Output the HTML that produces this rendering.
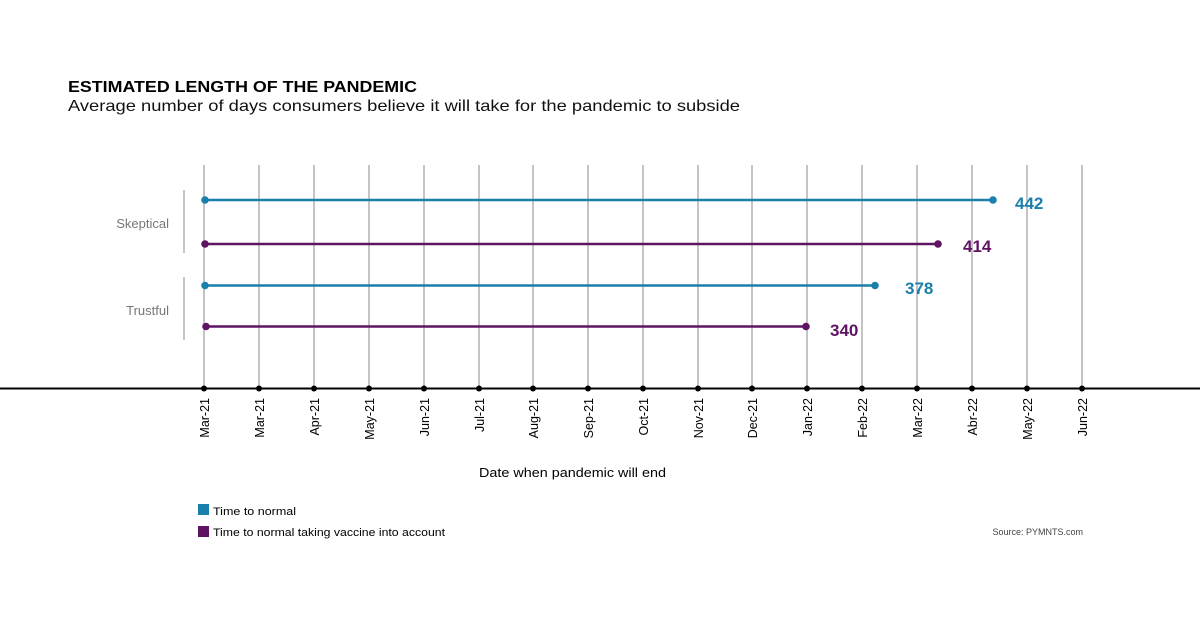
<!DOCTYPE html>
<html><head><style>
body{margin:0;background:#fff;width:1200px;height:634px;overflow:hidden;font-family:"Liberation Sans",sans-serif;}
</style></head><body>
<svg width="1200" height="634" xmlns="http://www.w3.org/2000/svg" font-family="Liberation Sans, sans-serif">
<text x="68" y="92" font-size="16" font-weight="bold" fill="#000" textLength="349" lengthAdjust="spacingAndGlyphs">ESTIMATED LENGTH OF THE PANDEMIC</text>
<text x="68" y="111" font-size="16" fill="#111" textLength="672" lengthAdjust="spacingAndGlyphs">Average number of days consumers believe it will take for the pandemic to subside</text>
<g stroke="#888" stroke-width="1">
<line x1="204" y1="165" x2="204" y2="388"/><line x1="259" y1="165" x2="259" y2="388"/><line x1="314" y1="165" x2="314" y2="388"/><line x1="369" y1="165" x2="369" y2="388"/><line x1="424" y1="165" x2="424" y2="388"/><line x1="479" y1="165" x2="479" y2="388"/><line x1="533" y1="165" x2="533" y2="388"/><line x1="588" y1="165" x2="588" y2="388"/><line x1="643" y1="165" x2="643" y2="388"/><line x1="698" y1="165" x2="698" y2="388"/><line x1="752" y1="165" x2="752" y2="388"/><line x1="807" y1="165" x2="807" y2="388"/><line x1="862" y1="165" x2="862" y2="388"/><line x1="917" y1="165" x2="917" y2="388"/><line x1="972" y1="165" x2="972" y2="388"/><line x1="1027" y1="165" x2="1027" y2="388"/><line x1="1082" y1="165" x2="1082" y2="388"/>
<line x1="184" y1="190" x2="184" y2="253"/><line x1="184" y1="277" x2="184" y2="340"/>
</g>
<line x1="0" y1="388.5" x2="1200" y2="388.5" stroke="#000" stroke-width="2"/>
<g fill="#000">
<circle cx="204" cy="388.5" r="3"/><circle cx="259" cy="388.5" r="3"/><circle cx="314" cy="388.5" r="3"/><circle cx="369" cy="388.5" r="3"/><circle cx="424" cy="388.5" r="3"/><circle cx="479" cy="388.5" r="3"/><circle cx="533" cy="388.5" r="3"/><circle cx="588" cy="388.5" r="3"/><circle cx="643" cy="388.5" r="3"/><circle cx="698" cy="388.5" r="3"/><circle cx="752" cy="388.5" r="3"/><circle cx="807" cy="388.5" r="3"/><circle cx="862" cy="388.5" r="3"/><circle cx="917" cy="388.5" r="3"/><circle cx="972" cy="388.5" r="3"/><circle cx="1027" cy="388.5" r="3"/><circle cx="1082" cy="388.5" r="3"/>
</g>
<g font-size="12.5" fill="#000" text-anchor="end">
<text transform="translate(209,398) rotate(-90)">Mar-21</text>
<text transform="translate(264,398) rotate(-90)">Mar-21</text>
<text transform="translate(319,398) rotate(-90)">Apr-21</text>
<text transform="translate(374,398) rotate(-90)">May-21</text>
<text transform="translate(429,398) rotate(-90)">Jun-21</text>
<text transform="translate(484,398) rotate(-90)">Jul-21</text>
<text transform="translate(538,398) rotate(-90)">Aug-21</text>
<text transform="translate(593,398) rotate(-90)">Sep-21</text>
<text transform="translate(648,398) rotate(-90)">Oct-21</text>
<text transform="translate(703,398) rotate(-90)">Nov-21</text>
<text transform="translate(757,398) rotate(-90)">Dec-21</text>
<text transform="translate(812,398) rotate(-90)">Jan-22</text>
<text transform="translate(867,398) rotate(-90)">Feb-22</text>
<text transform="translate(922,398) rotate(-90)">Mar-22</text>
<text transform="translate(977,398) rotate(-90)">Abr-22</text>
<text transform="translate(1032,398) rotate(-90)">May-22</text>
<text transform="translate(1087,398) rotate(-90)">Jun-22</text>
</g>
<g font-size="13" fill="#777" text-anchor="end">
<text x="169" y="228">Skeptical</text>
<text x="169" y="315">Trustful</text>
</g>
<g stroke-width="2.5">
<line x1="205" y1="200" x2="993" y2="200" stroke="#1b7fab"/>
<line x1="205" y1="244" x2="938" y2="244" stroke="#5e1463"/>
<line x1="205" y1="285.5" x2="875" y2="285.5" stroke="#1b7fab"/>
<line x1="206" y1="326.5" x2="806" y2="326.5" stroke="#5e1463"/>
</g>
<circle cx="205" cy="200" r="3.8" fill="#1b7fab"/><circle cx="993" cy="200" r="3.8" fill="#1b7fab"/>
<circle cx="205" cy="244" r="3.8" fill="#5e1463"/><circle cx="938" cy="244" r="3.8" fill="#5e1463"/>
<circle cx="205" cy="285.5" r="3.8" fill="#1b7fab"/><circle cx="875" cy="285.5" r="3.8" fill="#1b7fab"/>
<circle cx="206" cy="326.5" r="3.8" fill="#5e1463"/><circle cx="806" cy="326.5" r="3.8" fill="#5e1463"/>
<g font-size="17" font-weight="bold">
<text x="1015" y="209" fill="#1b7fab">442</text>
<text x="963" y="252" fill="#5e1463">414</text>
<text x="905" y="294" fill="#1b7fab">378</text>
<text x="830" y="336" fill="#5e1463">340</text>
</g>
<text x="479" y="477" font-size="13" fill="#000" textLength="187" lengthAdjust="spacingAndGlyphs">Date when pandemic will end</text>
<rect x="198" y="504" width="11" height="11" fill="#1b7fab"/>
<text x="213" y="515" font-size="11" fill="#000" textLength="83" lengthAdjust="spacingAndGlyphs">Time to normal</text>
<rect x="198" y="526" width="11" height="11" fill="#5e1463"/>
<text x="213" y="536" font-size="11" fill="#000" textLength="232" lengthAdjust="spacingAndGlyphs">Time to normal taking vaccine into account</text>
<text x="1083" y="535" font-size="9" fill="#444" text-anchor="end">Source: PYMNTS.com</text>
</svg>
</body></html>
